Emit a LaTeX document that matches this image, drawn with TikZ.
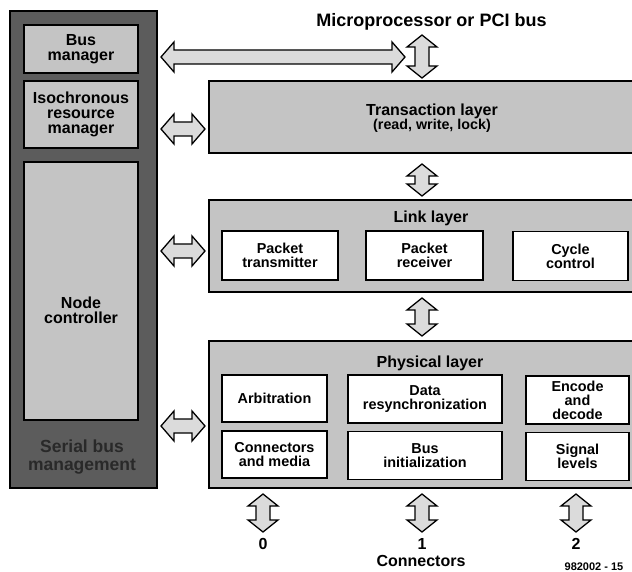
\documentclass[tikz,border=0pt]{standalone}
\usepackage{fontspec}
\setmainfont{Liberation Sans}
\usetikzlibrary{calc}

\definecolor{panelgray}{gray}{0.36}
\definecolor{boxgray}{gray}{0.77}
\definecolor{arrowgray}{gray}{0.86}
\definecolor{paneltext}{gray}{0.16}

\tikzset{
  panelbox/.style={draw=black, line width=2pt, fill=panelgray, inner sep=0pt},
  subbox/.style={draw=black, line width=1.8pt, fill=boxgray, minimum width=114pt,
    inner sep=0pt, align=center, font=\fontsize{16}{15}\selectfont\bfseries},
  layerbox/.style={draw=black, line width=2pt, fill=boxgray, inner sep=0pt},
  unitbox/.style={draw=black, line width=1.8pt, fill=white, inner sep=0pt,
    align=center, font=\fontsize{14.4}{14}\selectfont\bfseries},
  lbl/.style={inner sep=0pt, align=center, font=\fontsize{16}{15}\selectfont\bfseries},
  fatarrow/.style={draw=black, line width=1.3pt, fill=arrowgray, line join=miter},
}

% horizontal outlined double arrow between two points (same height as the first)
\newcommand\hfat[2]{%
  \path[fatarrow] let \p1=(#1), \p2=(#2) in
    (\x1,\y1) -- (\x1+13pt,\y1+15pt) -- (\x1+13pt,\y1+7pt) -- (\x2-13pt,\y1+7pt)
    -- (\x2-13pt,\y1+15pt) -- (\x2,\y1) -- (\x2-13pt,\y1-15pt) -- (\x2-13pt,\y1-7pt)
    -- (\x1+13pt,\y1-7pt) -- (\x1+13pt,\y1-15pt) -- cycle;}
% vertical outlined double arrow, first point on top
\newcommand\vfat[2]{%
  \path[fatarrow] let \p1=(#1), \p2=(#2) in
    (\x1,\y1) -- (\x1+15pt,\y1-12pt) -- (\x1+7pt,\y1-12pt) -- (\x1+7pt,\y2+12pt)
    -- (\x1+15pt,\y2+12pt) -- (\x1,\y2) -- (\x1-15pt,\y2+12pt) -- (\x1-7pt,\y2+12pt)
    -- (\x1-7pt,\y1-12pt) -- (\x1-15pt,\y1-12pt) -- cycle;}

\begin{document}
\begin{tikzpicture}[x=1pt, y=-1pt]
  \clip (0,0) rectangle (632,572);
  \fill[white] (0,0) rectangle (632,572);

  % serial bus management panel
  \node[panelbox, minimum width=147pt, minimum height=477pt] (sbm) at (83.5,249.5) {};
  \node[subbox, minimum height=48pt] (bm) at (81,49) {Bus\\manager};
  \node[subbox, minimum height=67pt] (irm) at (81,114.5) {Isochronous\\resource\\manager};
  \node[subbox, minimum height=258pt] (nc) at (81,291) {};
  \node[lbl] (nctext) at (81,310) {Node\\controller};
  \node[lbl, text=paneltext, font=\fontsize{17.5}{17.5}\selectfont\bfseries] (sbmtext) at (82,457)
    {Serial bus\\management};

  % protocol layers
  \node[layerbox, minimum width=431pt, minimum height=72pt] (tl) at (424.5,117) {};
  \node[lbl] (tltext) at (432,118) {Transaction layer\\[-1pt]
    {\fontsize{14.3}{14}\selectfont (read, write, lock)}};

  \node[layerbox, minimum width=431pt, minimum height=92pt] (ll) at (424.5,246) {};
  \node[lbl] (lltext) at (431,218) {Link layer};
  \node[unitbox, minimum width=116pt, minimum height=49pt] (ptx) at (280,255.5) {Packet\\transmitter};
  \node[unitbox, minimum width=117pt, minimum height=49pt] (prx) at (424.5,255.5) {Packet\\receiver};
  \node[unitbox, minimum width=115pt, minimum height=49pt] (cyc) at (570.5,256) {Cycle\\control};

  \node[layerbox, minimum width=431pt, minimum height=147pt] (pl) at (424.5,414.5) {};
  \node[lbl] (pltext) at (430,363) {Physical layer};
  \node[unitbox, minimum width=105pt, minimum height=47pt] (arb) at (274.5,398.5) {Arbitration};
  \node[unitbox, minimum width=105pt, minimum height=47pt] (cm) at (274.5,454.5) {Connectors\\and media};
  \node[unitbox, minimum width=154pt, minimum height=48pt] (drs) at (425,399) {Data\\resynchronization};
  \node[unitbox, minimum width=154pt, minimum height=48pt] (bi) at (425,455.5) {Bus\\initialization};
  \node[unitbox, minimum width=103pt, minimum height=48pt] (enc) at (577.5,400) {Encode\\and\\decode};
  \node[unitbox, minimum width=103pt, minimum height=48pt] (sig) at (577.5,456.5) {Signal\\levels};

  % external interfaces
  \node[lbl, font=\fontsize{18}{18}\selectfont\bfseries] (mp) at (431.5,22) {Microprocessor or PCI bus};
  \coordinate (bus) at (422,35);
  \coordinate (bmend) at (405,57);
  \coordinate (c0) at (263,532);
  \coordinate (c1) at (422,532);
  \coordinate (c2) at (576,532);
  \node[lbl] (n0) at (263,544) {0};
  \node[lbl] (n1) at (422,544) {1};
  \node[lbl] (n2) at (576,544) {2};
  \node[lbl] (conn) at (421,561) {Connectors};
  \node[lbl, font=\fontsize{11}{11}\selectfont\bfseries] (fig) at (594,567) {982002 - 15};

  % data paths
  \hfat{$(sbm.east |- 0,57)+(3,0)$}{bmend}
  \hfat{$(sbm.east |- 0,129)+(3,0)$}{$(tl.west |- 0,129)+(-3,0)$}
  \hfat{$(sbm.east |- 0,251)+(3,0)$}{$(ll.west |- 0,251)+(-3,0)$}
  \hfat{$(sbm.east |- 0,426)+(3,0)$}{$(pl.west |- 0,426)+(-3,0)$}

  \vfat{bus}{$(422,0 |- tl.north)+(0,-2)$}
  \vfat{$(422,0 |- tl.south)+(0,10)$}{$(422,0 |- ll.north)+(0,-3)$}
  \vfat{$(422,0 |- ll.south)+(0,5)$}{$(422,0 |- pl.north)+(0,-4)$}
  \vfat{$(263,0 |- pl.south)+(0,5)$}{c0}
  \vfat{$(422,0 |- pl.south)+(0,5)$}{c1}
  \vfat{$(576,0 |- pl.south)+(0,5)$}{c2}
\end{tikzpicture}
\end{document}
